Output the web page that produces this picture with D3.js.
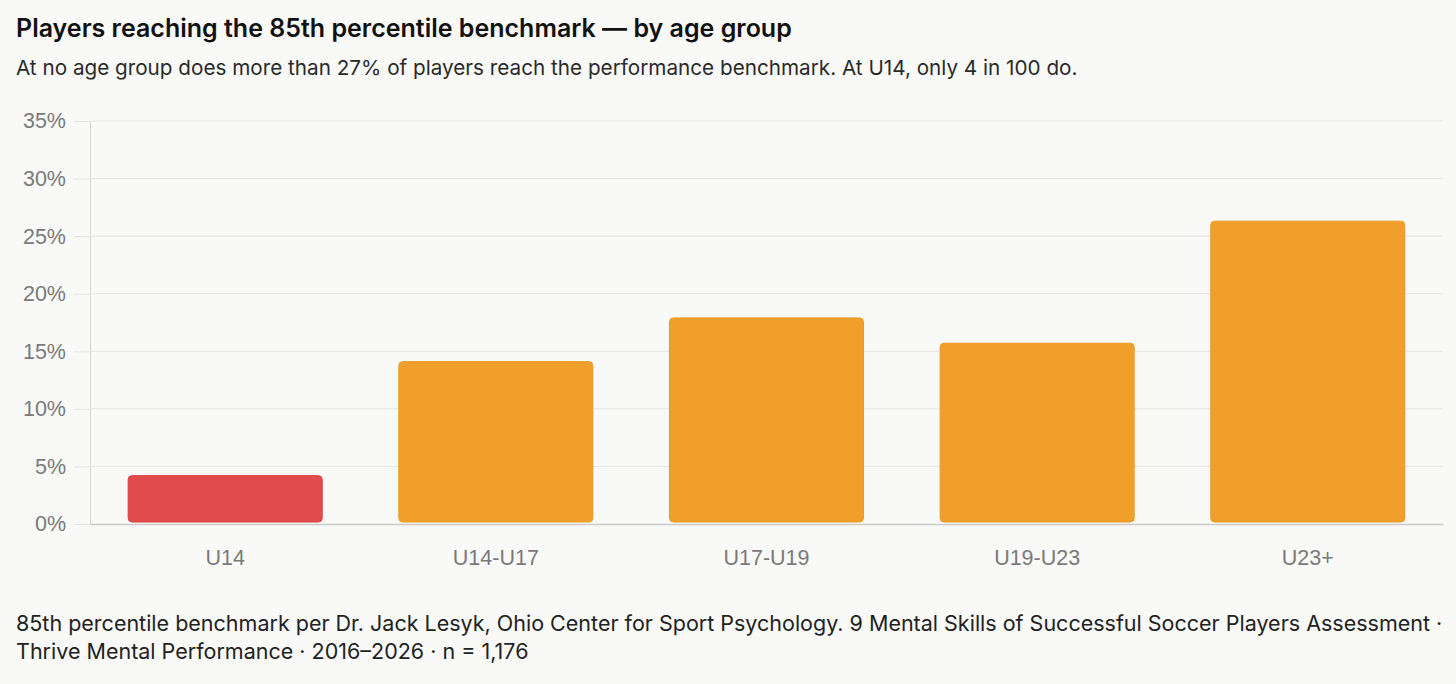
<!DOCTYPE html>
<html>
<head>
<meta charset="utf-8">
<script src="https://cdn.jsdelivr.net/npm/d3@7"></script>
<style>
  body { margin: 0; background: #f9f9f7; }
  text { font-family: Inter, "Noto Sans", sans-serif; }
</style>
</head>
<body>
<script>
// Data
const ageGroups = ["U14", "U14-U17", "U17-U19", "U19-U23", "U23+"];
const pctReaching = [4.2, 14.1, 17.9, 15.7, 26.3];
const yTicks = [0, 5, 10, 15, 20, 25, 30, 35];
const highlightGroup = "U14";

const title = "Players reaching the 85th percentile benchmark — by age group";
const subtitle = "At no age group does more than 27% of players reach the performance benchmark. At U14, only 4 in 100 do.";
const footer = [
    "85th percentile benchmark per Dr. Jack Lesyk, Ohio Center for Sport Psychology. 9 Mental Skills of Successful Soccer Players Assessment ·",
    "Thrive Mental Performance · 2016–2026 · n = 1,176"
];

const data = ageGroups.map((g, i) => ({ group: g, value: pctReaching[i] }));

const tickFont = "'Liberation Sans', Arial, sans-serif";

// Dimensions
let width = 1456,
    height = 684;

let margin = { top: 121, bottom: 160, left: 90, right: 13 };

let svg = d3.select("body")
    .append("svg")
    .attr("width", width)
    .attr("height", height);

svg.append("rect")
    .attr("width", width)
    .attr("height", height)
    .attr("fill", "#f9f9f7");

// Title and subtitle
svg.append("text")
    .attr("x", 16)
    .attr("y", 37)
    .attr("font-size", 25)
    .attr("font-weight", 600)
    .attr("fill", "#111")
    .text(title);

svg.append("text")
    .attr("x", 16)
    .attr("y", 75)
    .attr("font-size", 20.7)
    .attr("fill", "#2a2a2a")
    .text(subtitle);

// Scales
let xScale = d3.scaleBand()
    .domain(ageGroups)
    .range([margin.left, width - margin.right])
    .paddingInner(0.283)
    .paddingOuter(0.141);

let yScale = d3.scaleLinear()
    .domain([0, 35])
    .range([height - margin.bottom, margin.top]);

// Y axis with gridlines
let yAxis = svg.append("g")
    .attr("transform", `translate(${margin.left},0)`)
    .call(d3.axisLeft(yScale)
        .tickValues(yTicks)
        .tickFormat(d => d + "%")
        .tickSize(16)
        .tickPadding(8));

yAxis.select(".domain").attr("stroke", "#d4d4d4");
yAxis.selectAll(".tick line").attr("stroke", "#e4e4e2");
yAxis.selectAll(".tick text")
    .attr("font-size", 21.5)
    .attr("fill", "#7a7a7a")
    .style("font-family", tickFont);

svg.append("g")
    .selectAll("line")
    .data(yTicks.filter(d => d > 0))
    .enter().append("line")
    .attr("x1", margin.left)
    .attr("x2", width - margin.right)
    .attr("y1", d => yScale(d))
    .attr("y2", d => yScale(d))
    .attr("stroke", "#e4e4e2");

// Bars
svg.selectAll("rect.bar")
    .data(data)
    .enter().append("rect")
    .attr("class", "bar")
    .attr("x", d => xScale(d.group))
    .attr("y", d => yScale(d.value))
    .attr("width", xScale.bandwidth())
    .attr("height", d => yScale(0) - yScale(d.value) - 2)
    .attr("rx", 4)
    .attr("fill", d => d.group === highlightGroup ? "#e34a4c" : "#f0a02a")
    .attr("stroke", d => d.group === highlightGroup ? "#d8403f" : "#eb9a22")
    .attr("stroke-width", 1);

// X axis baseline
let xAxis = svg.append("g")
    .attr("transform", `translate(0,${yScale(0)})`)
    .call(d3.axisBottom(xScale).tickSize(0).tickPadding(26));

xAxis.select(".domain")
    .attr("stroke", "#cccccc")
    .attr("stroke-width", 1.5);
xAxis.selectAll(".tick text")
    .attr("font-size", 21.5)
    .attr("fill", "#7a7a7a")
    .style("font-family", tickFont);

// Footer
svg.selectAll("text.footer")
    .data(footer)
    .enter().append("text")
    .attr("class", "footer")
    .attr("x", 16)
    .attr("y", (d, i) => 631 + i * 28)
    .attr("font-size", 21.5)
    .attr("fill", "#222")
    .text(d => d);
</script>
</body>
</html>
